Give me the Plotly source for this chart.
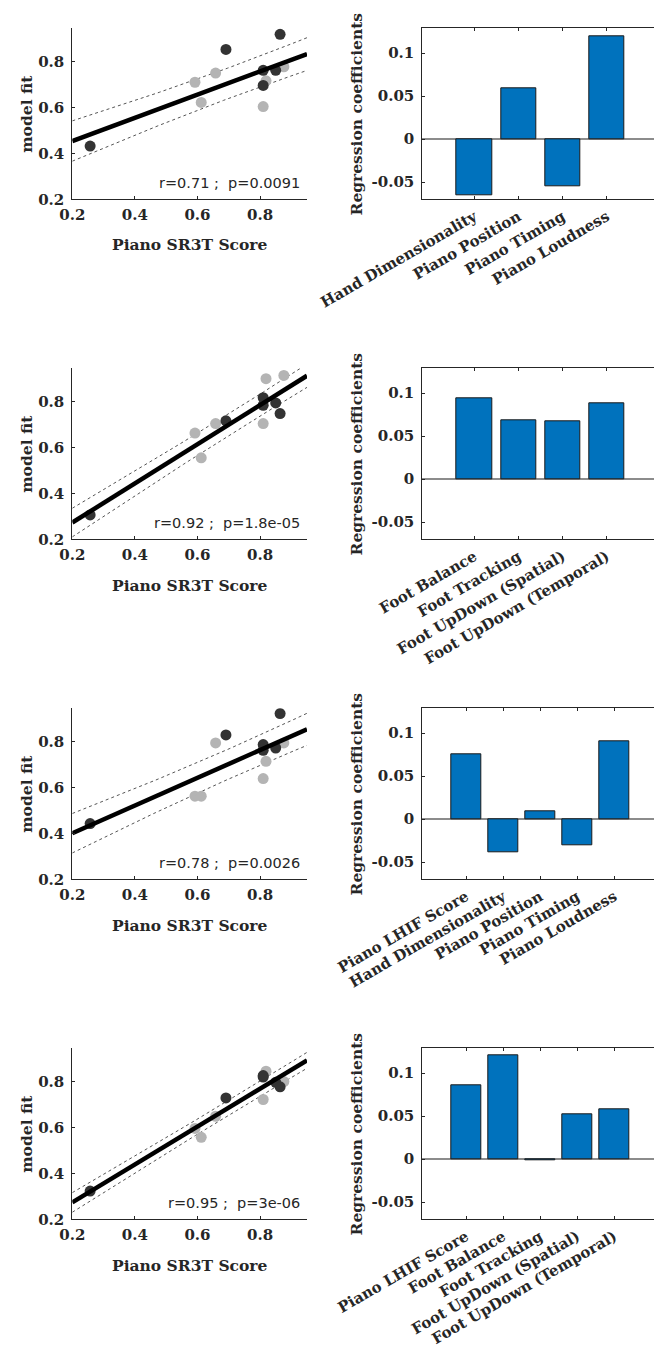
import numpy as np
import plotly.graph_objects as go

W, H = 654, 1349

# ---------------- data ----------------
sr3t_score = [0.257, 0.691, 0.810, 0.810, 0.850, 0.864,   # dark group
              0.592, 0.612, 0.658, 0.810, 0.819, 0.876]   # light group
group = ["dark"] * 6 + ["light"] * 6

fit_row1 = [0.432, 0.853, 0.762, 0.696, 0.762, 0.919,
            0.710, 0.622, 0.750, 0.604, 0.716, 0.777]
fit_row2 = [0.306, 0.716, 0.817, 0.784, 0.794, 0.748,
            0.663, 0.555, 0.704, 0.704, 0.900, 0.914]
fit_row3 = [0.443, 0.829, 0.787, 0.762, 0.772, 0.922,
            0.562, 0.562, 0.794, 0.639, 0.714, 0.794]
fit_row4 = [0.323, 0.729, 0.820, 0.826, 0.797, 0.777,
            0.596, 0.557, 0.649, 0.722, 0.845, 0.800]
model_fits = [fit_row1, fit_row2, fit_row3, fit_row4]

stats_text = ["r=0.71 ;  p=0.0091", "r=0.92 ;  p=1.8e-05",
              "r=0.78 ;  p=0.0026", "r=0.95 ;  p=3e-06"]

cats_row1 = ["Hand Dimensionality", "Piano Position", "Piano Timing", "Piano Loudness"]
coef_row1 = [-0.065, 0.059, -0.055, 0.120]
cats_row2 = ["Foot Balance", "Foot Tracking", "Foot UpDown (Spatial)", "Foot UpDown (Temporal)"]
coef_row2 = [0.094, 0.068, 0.0675, 0.0888]
cats_row3 = ["Piano LHIF Score", "Hand Dimensionality", "Piano Position", "Piano Timing", "Piano Loudness"]
coef_row3 = [0.076, -0.039, 0.009, -0.030, 0.091]
cats_row4 = ["Piano LHIF Score", "Foot Balance", "Foot Tracking", "Foot UpDown (Spatial)", "Foot UpDown (Temporal)"]
coef_row4 = [0.0856, 0.121, -0.001, 0.052, 0.058]
bar_cats = [cats_row1, cats_row2, cats_row3, cats_row4]
bar_vals = [coef_row1, coef_row2, coef_row3, coef_row4]

band_t = 0.70  # multiplier for the dotted band (prediction interval)

# ---------------- styling ----------------
TXT = "#262626"
SERIF = "DejaVu Serif"
DARK = "#333333"
LIGHT = "#b4b4b4"
BLUE = "#0072BD"

def px_x(p):
    return p / W

def px_y(p):
    return 1 - p / H

fig = go.Figure()
layout = {}
annotations = []

SC_L, SC_R = 72.3, 307.0
BR_L, BR_R = 422.3, 653.5
ROW_TOP0, ROW_BOT0, ROW_STEP = 28.3, 199.3, 340.0

for i in range(4):
    top = ROW_TOP0 + ROW_STEP * i
    bot = ROW_BOT0 + ROW_STEP * i
    xs_name = "x%d" % (2 * i + 1)
    ys_name = "y%d" % (2 * i + 1)
    xb_name = "x%d" % (2 * i + 2)
    yb_name = "y%d" % (2 * i + 2)
    xs_key = "xaxis%d" % (2 * i + 1)
    ys_key = "yaxis%d" % (2 * i + 1)
    xb_key = "xaxis%d" % (2 * i + 2)
    yb_key = "yaxis%d" % (2 * i + 2)

    x = np.array(sr3t_score)
    y = np.array(model_fits[i])
    n = len(x)
    slope, icpt = np.polyfit(x, y, 1)
    xl = np.linspace(0.2, 0.95, 60)
    yl = icpt + slope * xl
    resid = y - (icpt + slope * x)
    s = np.sqrt(np.sum(resid ** 2) / (n - 2))
    sxx = np.sum((x - x.mean()) ** 2)
    half = band_t * s * np.sqrt(1 + 1 / n + (xl - x.mean()) ** 2 / sxx)

    for yy in (yl + half, yl - half):
        fig.add_trace(go.Scatter(x=xl, y=yy, mode="lines",
                                 line=dict(color="#555555", width=1, dash="dot"),
                                 xaxis=xs_name, yaxis=ys_name, showlegend=False,
                                 hoverinfo="skip"))
    for g, col in (("light", LIGHT), ("dark", DARK)):
        idx = [k for k in range(n) if group[k] == g]
        fig.add_trace(go.Scatter(x=[sr3t_score[k] for k in idx],
                                 y=[model_fits[i][k] for k in idx],
                                 mode="markers",
                                 marker=dict(color=col, size=11, line=dict(width=0)),
                                 xaxis=xs_name, yaxis=ys_name, showlegend=False))
    fig.add_trace(go.Scatter(x=xl, y=yl, mode="lines",
                             line=dict(color="black", width=4.5),
                             xaxis=xs_name, yaxis=ys_name, showlegend=False))

    common_font = dict(family=SERIF, size=15, color=TXT, weight="bold")
    layout[xs_key] = dict(domain=[px_x(SC_L), px_x(SC_R)], anchor=ys_name,
                          range=[0.2, 0.95], tickvals=[0.2, 0.4, 0.6, 0.8],
                          ticktext=["0.2", "0.4", "0.6", "0.8"],
                          showline=True, linecolor=TXT, linewidth=1,
                          ticks="inside", ticklen=3, tickcolor=TXT,
                          showgrid=False, zeroline=False, automargin=False,
                          tickfont=common_font, ticklabelstandoff=2)
    layout[ys_key] = dict(domain=[px_y(bot), px_y(top)], anchor=xs_name,
                          range=[0.2, 0.945], tickvals=[0.2, 0.4, 0.6, 0.8],
                          ticktext=["0.2", "0.4", "0.6", "0.8"],
                          showline=True, linecolor=TXT, linewidth=1,
                          ticks="inside", ticklen=3, tickcolor=TXT,
                          showgrid=False, zeroline=False, automargin=False,
                          tickfont=common_font, ticklabelstandoff=4)

    annotations.append(dict(xref=xs_name, yref=ys_name, x=0.935, y=0.27,
                            text=stats_text[i], showarrow=False,
                            xanchor="right", yanchor="middle",
                            font=dict(family="DejaVu Sans", size=14.5, color=TXT)))
    annotations.append(dict(xref="paper", yref="paper",
                            x=px_x((SC_L + SC_R) / 2), y=px_y(bot + 45.7),
                            text="Piano SR3T Score", showarrow=False,
                            xanchor="center", yanchor="middle",
                            font=dict(family=SERIF, size=15.5, color=TXT, weight="bold")))
    annotations.append(dict(xref="paper", yref="paper",
                            x=px_x(27), y=px_y((top + bot) / 2),
                            text="model fit", showarrow=False, textangle=-90,
                            xanchor="center", yanchor="middle",
                            font=dict(family=SERIF, size=15.5, color=TXT, weight="bold")))

    # ---- bar chart ----
    cats = bar_cats[i]
    vals = bar_vals[i]
    pos = list(range(1, len(cats) + 1))
    fig.add_trace(go.Bar(x=pos, y=vals, width=0.8,
                         marker=dict(color=BLUE, line=dict(color="#1a1a1a", width=1)),
                         xaxis=xb_name, yaxis=yb_name, showlegend=False))
    layout[xb_key] = dict(domain=[px_x(BR_L), px_x(BR_R)], anchor=yb_name,
                          range=[-0.18, len(cats) + 1.06],
                          tickvals=pos, ticktext=cats, tickangle=-30,
                          showline=True, linecolor=TXT, linewidth=1, mirror="ticks",
                          ticks="inside", ticklen=3, tickcolor=TXT,
                          showgrid=False, zeroline=False, automargin=False,
                          tickfont=common_font, ticklabelstandoff=2)
    layout[yb_key] = dict(domain=[px_y(bot), px_y(top)], anchor=xb_name,
                          range=[-0.07, 0.129],
                          tickvals=[-0.05, 0, 0.05, 0.1],
                          ticktext=["-0.05", "0", "0.05", "0.1"],
                          showline=True, linecolor=TXT, linewidth=1,
                          ticks="inside", ticklen=3, tickcolor=TXT,
                          showgrid=False, zeroline=True, zerolinecolor="#8c8c8c",
                          zerolinewidth=1.5, automargin=False,
                          tickfont=common_font, ticklabelstandoff=4)
    annotations.append(dict(xref="paper", yref="paper",
                            x=px_x(356.7), y=px_y((top + bot) / 2),
                            text="Regression coefficients", showarrow=False, textangle=-90,
                            xanchor="center", yanchor="middle",
                            font=dict(family=SERIF, size=15.5, color=TXT, weight="bold")))

fig.update_layout(template="none", width=W, height=H,
                  margin=dict(l=0, r=0, t=0, b=0, autoexpand=False),
                  paper_bgcolor="white", plot_bgcolor="white",
                  annotations=annotations, bargap=0, **layout)

fig.write_html("out.html")
